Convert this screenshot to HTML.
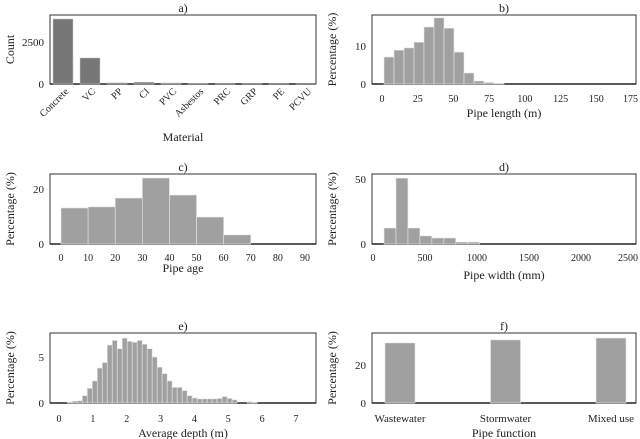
<!DOCTYPE html>
<html><head><meta charset="utf-8"><style>
body{margin:0;background:#fff}
svg{display:block}
text{font-family:"Liberation Serif",serif;fill:#222}
</style></head><body>
<svg id="s" width="640" height="439" viewBox="0 0 640 439"></svg>
<script>
const matCats=["Concrete","VC","PP","CI","PVC","Asbestos","PRC","GRP","PE","PCVU"];
const matCounts=[3870,1550,70,110,60,8,5,4,3,2];
const lenValues=[7.1,8.9,9.5,11,15,17.4,14.7,8.4,2.9,0.8,0.4,0.2];
const ageValues=[13.1,13.5,16.7,24,17.8,9.8,3.3];
const widthValues=[12.3,50.7,12.3,6.2,4.6,4.6,1.5,1.5];
const depthValues=[0.1,0.2,0.25,0.8,1.6,2.4,3.8,4.4,6.3,6.8,5.9,7.05,6.7,6.6,6.8,6.4,5.9,5.0,3.9,3.2,2.4,1.7,1.7,1.35,0.8,0.55,0.45,0.45,0.45,0.45,0.5,0.7,0.5,0.35,0,0,0.15,0.05];
const funcCats=["Wastewater","Stormwater","Mixed use"];
const funcValues=[31.6,33.2,34.2];
const lenTicks=[0,25,50,75,100,125,150,175];
const ageTicks=[0,10,20,30,40,50,60,70,80,90];
const widthTicks=[0,500,1000,1500,2000,2500];
const depthTicks=[0,1,2,3,4,5,6,7];

const S=document.getElementById('s');
const NS='http://www.w3.org/2000/svg';
function el(t,a,txt){const e=document.createElementNS(NS,t);for(const k in a)e.setAttribute(k,a[k]);if(txt!==undefined)e.textContent=txt;S.appendChild(e);return e;}
function lin(d0,d1,r0,r1){return v=>r0+(v-d0)/(d1-d0)*(r1-r0);}
function frame(name,x0,y0,x1,y1,title,xl,xly,yl){
  const f=el('rect',{x:x0,y:y0,width:x1-x0,height:y1-y0,fill:'none',stroke:'#333','stroke-width':1});
  
  const b=el('line',{x1:x0,x2:x1,y1:y1,y2:y1,stroke:'#222','stroke-width':1.6});
  
  const t=el('text',{x:(x0+x1)/2,y:y0-3,'text-anchor':'middle','font-size':12},title);
  
  const xt=el('text',{x:(x0+x1)/2,y:xly,'text-anchor':'middle','font-size':12},xl);
  
  const cy=(y0+y1)/2, lx=x0-36;
  const yt=el('text',{x:lx,y:cy,'text-anchor':'middle','font-size':12,transform:`rotate(-90 ${lx} ${cy})`},yl);
  
}
function yticks(name,x0,ys,ticks){ticks.forEach(v=>{const t=el('text',{x:x0-6,y:ys(v)+4,'text-anchor':'end','font-size':11},String(v));});}
function xticks(name,xs,ticks,y){ticks.forEach(v=>{let x=xs(v);const t=el('text',{x:x,y:y,'text-anchor':'middle','font-size':10},String(v));if(x>620){t.setAttribute('x',638);t.setAttribute('text-anchor','end');}});}
function hist(name,vals,start,w,xs,ys,y1){vals.forEach((v,i)=>{const a=xs(start+i*w),b=xs(start+(i+1)*w);const r=el('rect',{x:a,y:ys(v),width:b-a,height:y1-ys(v),fill:'#a0a0a0',stroke:'#e8e8e8','stroke-width':0.6});});}

// a
{const x0=50,y0=15,x1=316,y1=84;const ys=lin(0,2500,y1,42);
frame('material',x0,y0,x1,y1,'a)','Material',141,'Count');
matCats.forEach((c,i)=>{const cx=63+i*27;const r=el('rect',{x:cx-10,y:ys(matCounts[i]),width:20,height:y1-ys(matCounts[i]),fill:'#777',stroke:'#ccc','stroke-width':0.5});

const t=el('text',{x:cx+6,y:92,'text-anchor':'end','font-size':10,transform:`rotate(-45 ${cx+6} 92)`},c);
});
yticks('material',x0,ys,[0,2500]);}
// b
{const x0=372,y0=15,x1=636,y1=84;const xs=lin(0,175,382,632),ys=lin(0,10,y1,46);
frame('length',x0,y0,x1,y1,'b)','Pipe length (m)',117,'Percentage (%)');
hist('length',lenValues,1.4,7,xs,ys,y1);yticks('length',x0,ys,[0,10]);xticks('length',xs,lenTicks,102);}
// c
{const x0=50,y0=174,x1=316,y1=244;const xs=lin(0,90,61,305),ys=lin(0,20,y1,189);
frame('age',x0,y0,x1,y1,'c)','Pipe age',272,'Percentage (%)');
hist('age',ageValues,0,10,xs,ys,y1);yticks('age',x0,ys,[0,20]);xticks('age',xs,ageTicks,261);}
// d
{const x0=372,y0=174,x1=636,y1=244;const xs=lin(0,2500,373,633),ys=lin(0,50,y1,179);
frame('width',x0,y0,x1,y1,'d)','Pipe width (mm)',279,'Percentage (%)');
hist('width',widthValues,106,115,xs,ys,y1);yticks('width',x0,ys,[0,50]);xticks('width',xs,widthTicks,261);}
// e
{const x0=50,y0=333,x1=316,y1=403;const xs=lin(0,7,59,296),ys=lin(0,5,y1,357);
frame('depth',x0,y0,x1,y1,'e)','Average depth (m)',437,'Percentage (%)');
hist('depth',depthValues,0.245,0.1475,xs,ys,y1);yticks('depth',x0,ys,[0,5]);xticks('depth',xs,depthTicks,422);}
// f
{const x0=372,y0=333,x1=636,y1=403;const ys=lin(0,20,y1,365);
frame('function',x0,y0,x1,y1,'f)','Pipe function',437,'Percentage (%)');
funcCats.forEach((c,i)=>{const cx=400+i*105.5;const r=el('rect',{x:cx-15,y:ys(funcValues[i]),width:30,height:y1-ys(funcValues[i]),fill:'#a0a0a0',stroke:'#e8e8e8','stroke-width':0.6});

const t=el('text',{x:cx,y:422,'text-anchor':'middle','font-size':11},c);
});
yticks('function',x0,ys,[0,20]);}
</script>
</body></html>
